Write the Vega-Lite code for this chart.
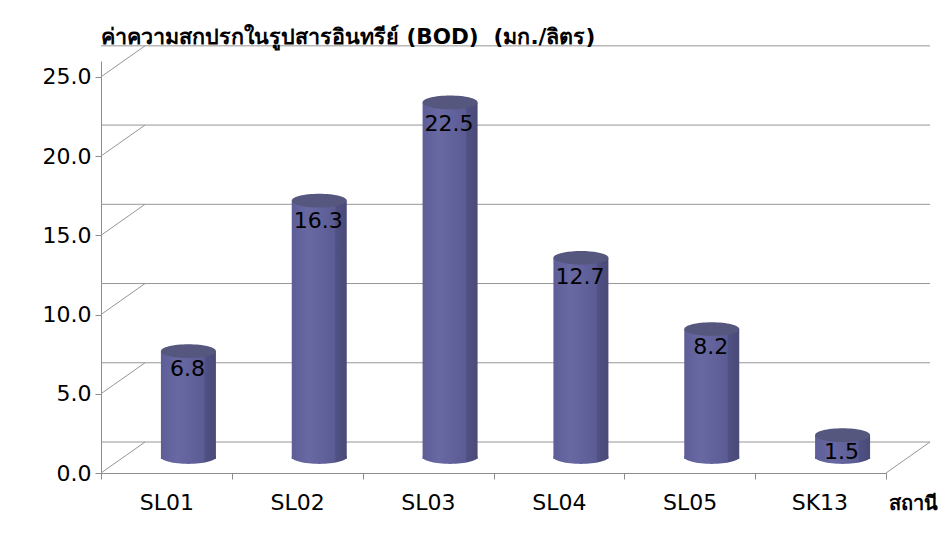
{
  "$schema": "https://vega.github.io/schema/vega-lite/v6.json",
  "width": 785,
  "height": 412,
  "autosize": "none",
  "padding": {"left": 101, "top": 61, "right": 61, "bottom": 72},
  "background": "white",
  "config": {"view": {"stroke": null}, "font": "DejaVu Sans"},
  "title": {
    "text": "ค่าความสกปรกในรูปสารอินทรีย์ (BOD) \u00a0(มก./ลิตร)",
    "anchor": "start",
    "frame": "group",
    "offset": -3,
    "fontSize": 21.5,
    "fontWeight": "bold",
    "color": "black",
    "font": "Tahoma, DejaVu Sans, Noto Sans"
  },
  "datasets": {
    "bod": [
      {"station": "SL01", "bod": 6.8},
      {"station": "SL02", "bod": 16.3},
      {"station": "SL03", "bod": 22.5},
      {"station": "SL04", "bod": 12.7},
      {"station": "SL05", "bod": 8.2},
      {"station": "SK13", "bod": 1.5}
    ],
    "ticks": [
      {"v": 0}, {"v": 5}, {"v": 10}, {"v": 15}, {"v": 20}, {"v": 25}
    ]
  },
  "layer": [
    {
      "layer": [
        {
          "data": {"name": "ticks"},
          "mark": {"type": "rule", "color": "#969696", "strokeWidth": 1, "xOffset": 44, "yOffset": -31},
          "encoding": {
            "y": {
              "field": "v",
              "type": "quantitative",
              "scale": {"domain": [0, 25]},
              "axis": {
                "title": null,
                "values": [0, 5, 10, 15, 20, 25],
                "format": ".1f",
                "labelFontSize": 22,
                "labelColor": "black",
                "labelPadding": 4,
                "tickSize": 6,
                "tickColor": "#8c8c8c",
                "domainColor": "#8c8c8c",
                "grid": false
              }
            }
          }
        },
        {
          "data": {"name": "ticks"},
          "mark": {"type": "rule", "color": "#969696", "strokeWidth": 1, "x2Offset": 44, "y2Offset": -31},
          "encoding": {
            "x": {"value": 0},
            "x2": {"value": 0},
            "y": {"field": "v", "type": "quantitative"},
            "y2": {"field": "v"}
          }
        },
        {
          "data": {"name": "bod"},
          "transform": [{"filter": "datum.station === 'SK13'"}],
          "mark": {"type": "rule", "color": "#969696", "strokeWidth": 1, "x2Offset": 44, "y2Offset": -31},
          "encoding": {
            "x": {"value": 785},
            "x2": {"value": 785},
            "y": {"datum": 0, "type": "quantitative"},
            "y2": {"datum": 0}
          }
        },
        {
          "data": {"name": "bod"},
          "mark": {
            "type": "point",
            "filled": true,
            "opacity": 1,
            "size": 3025,
            "xOffset": 22,
            "yOffset": -16,
            "shape": "M-1,0A1,0.25 0 1,0 1,0A1,0.25 0 1,0 -1,0Z",
            "color": {
              "gradient": "linear", "x1": 0, "x2": 1, "y1": 0, "y2": 0,
              "stops": [
                {"offset": 0, "color": "#5d5e97"},
                {"offset": 0.3, "color": "#6868a3"},
                {"offset": 0.78, "color": "#5b5c94"},
                {"offset": 0.8, "color": "#505184"},
                {"offset": 1, "color": "#494a77"}
              ]
            }
          },
          "encoding": {
            "x": {"field": "station", "type": "nominal", "sort": null},
            "y": {"datum": 0, "type": "quantitative"}
          }
        },
        {
          "data": {"name": "bod"},
          "mark": {
            "type": "bar",
            "width": 55,
            "xOffset": 22,
            "yOffset": -14,
            "y2Offset": -16,
            "color": {
              "gradient": "linear", "x1": 0, "x2": 1, "y1": 0, "y2": 0,
              "stops": [
                {"offset": 0, "color": "#5d5e97"},
                {"offset": 0.3, "color": "#6868a3"},
                {"offset": 0.78, "color": "#5b5c94"},
                {"offset": 0.8, "color": "#505184"},
                {"offset": 1, "color": "#494a77"}
              ]
            }
          },
          "encoding": {
            "x": {
              "field": "station",
              "type": "nominal",
              "sort": null,
              "scale": {"paddingInner": 0, "paddingOuter": 0},
              "axis": {
                "title": "สถานี",
                "titleFont": "Tahoma, DejaVu Sans, Noto Sans",
                "titleFontSize": 20,
                "titleFontWeight": "bold",
                "titleColor": "black",
                "titleAlign": "left",
                "titleBaseline": "middle",
                "titleAngle": 0,
                "titleX": 787,
                "titleY": 30,
                "labelAngle": 0,
                "labelFontSize": 22,
                "labelColor": "black",
                "labelPadding": 23,
                "labelOffset": 27,
                "tickBand": "extent",
                "tickSize": 6,
                "tickColor": "#8c8c8c",
                "domainColor": "#8c8c8c",
                "grid": false
              }
            },
            "y": {"field": "bod", "type": "quantitative"}
          }
        },
        {
          "data": {"name": "bod"},
          "mark": {
            "type": "point",
            "filled": true,
            "opacity": 1,
            "size": 3025,
            "xOffset": 22,
            "yOffset": -14,
            "shape": "M-1,0A1,0.25 0 1,0 1,0A1,0.25 0 1,0 -1,0Z",
            "color": "#56577f"
          },
          "encoding": {
            "x": {"field": "station", "type": "nominal", "sort": null},
            "y": {"field": "bod", "type": "quantitative"}
          }
        }
      ]
    },
    {
      "data": {"name": "bod"},
      "mark": {"type": "text", "fontSize": 22, "color": "black", "xOffset": 21, "dy": 2, "baseline": "middle", "align": "center"},
      "encoding": {
        "x": {"field": "station", "type": "nominal", "sort": null},
        "y": {"field": "bod", "type": "quantitative", "scale": {"domain": [0, 26.4]}, "axis": null},
        "text": {"field": "bod", "type": "quantitative", "format": ".1f"}
      }
    }
  ],
  "resolve": {"scale": {"y": "independent"}}
}
